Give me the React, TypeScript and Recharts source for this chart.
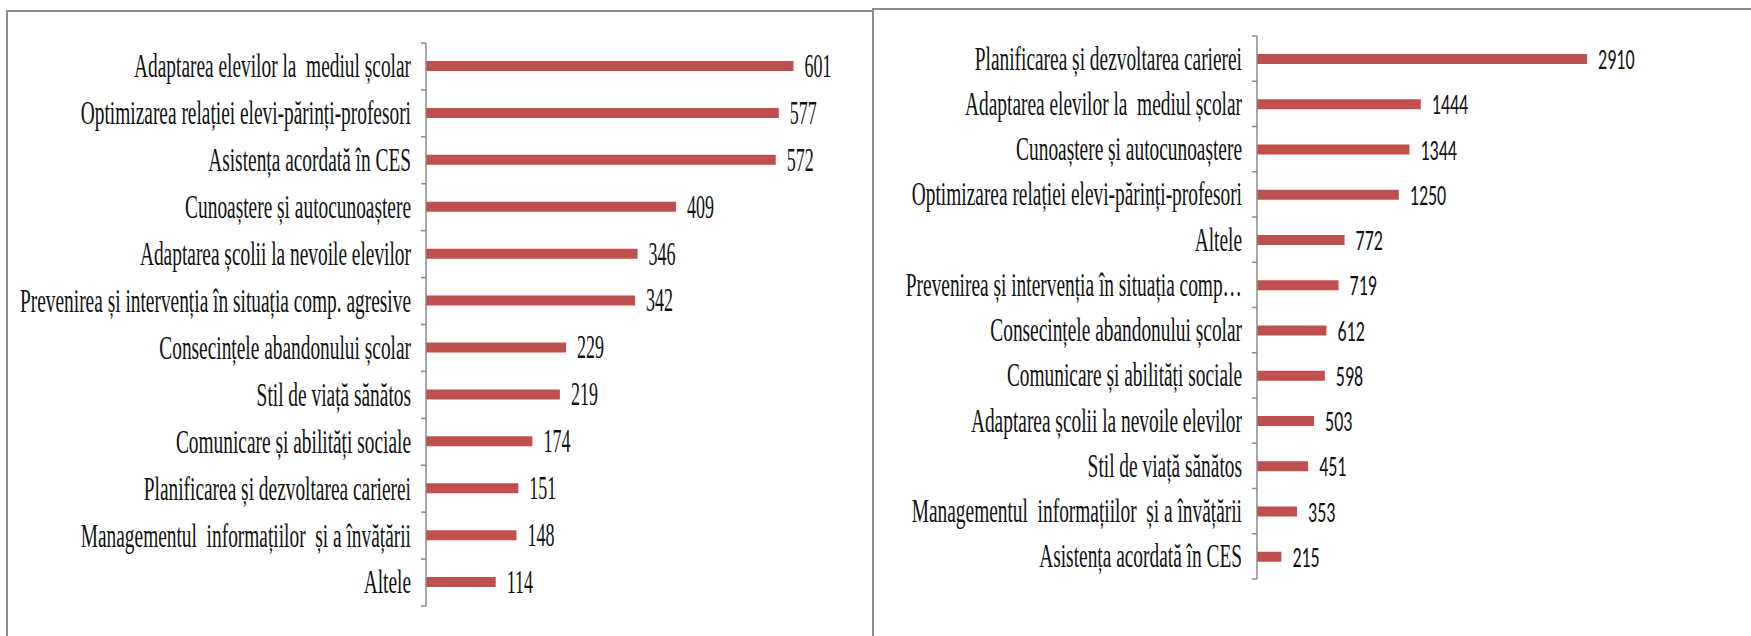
import React from "react";
import { BarChart, Bar, XAxis, YAxis, LabelList } from "recharts";

// left panel
const leftCategories = [
  "Adaptarea elevilor la  mediul școlar",
  "Optimizarea relației elevi-părinți-profesori",
  "Asistența acordată în CES",
  "Cunoaștere și autocunoaștere",
  "Adaptarea școlii la nevoile elevilor",
  "Prevenirea și intervenția în situația comp. agresive",
  "Consecințele abandonului școlar",
  "Stil de viață sănătos",
  "Comunicare și abilități sociale",
  "Planificarea și dezvoltarea carierei",
  "Managementul  informațiilor  și a învățării",
  "Altele",
];
const leftValues = [601, 577, 572, 409, 346, 342, 229, 219, 174, 151, 148, 114];

// right panel
const rightCategories = [
  "Planificarea și dezvoltarea carierei",
  "Adaptarea elevilor la  mediul școlar",
  "Cunoaștere și autocunoaștere",
  "Optimizarea relației elevi-părinți-profesori",
  "Altele",
  "Prevenirea și intervenția în situația comp…",
  "Consecințele abandonului școlar",
  "Comunicare și abilități sociale",
  "Adaptarea școlii la nevoile elevilor",
  "Stil de viață sănătos",
  "Managementul  informațiilor  și a învățării",
  "Asistența acordată în CES",
];
const rightValues = [2910, 1444, 1344, 1250, 772, 719, 612, 598, 503, 451, 353, 215];

const BAR = "#C0504D";
const AXIS = "#8a8a8a";
const BORDER = "#8c8c8c";
const TICK = 5;
const GAP = 10;

const serif = '"Liberation Serif", "DejaVu Serif", serif';
const sans = 'Carlito, Lato, "Open Sans", sans-serif';

function makeTick(cats: string[], size: number, squeeze: number) {
  return (props: any) => {
    const { x, y, payload } = props;
    const half = payload?.offset ?? 0;
    const ax = x + TICK + GAP;
    const last = payload?.value === cats[cats.length - 1];
    return (
      <g>
        <line x1={ax - TICK} x2={ax} y1={y - half} y2={y - half} stroke={AXIS} strokeWidth={1.5} />
        {last && <line x1={ax - TICK} x2={ax} y1={y + half} y2={y + half} stroke={AXIS} strokeWidth={1.5} />}
        <g transform={`translate(${x},${y + size * 0.32}) scale(${squeeze},1)`}>
          <text x={0} y={0} textAnchor="end" fontSize={size} fill="#111" style={{ whiteSpace: "pre", fontFamily: serif }}>
            {payload.value}
          </text>
        </g>
      </g>
    );
  };
}

function makeValueLabel(font: string, size: number, squeeze: number, capRatio: number) {
  return (props: any) => {
    const { x, y, width, height, value } = props;
    const tx = x + width + 11;
    const ty = y + height / 2 + size * capRatio;
    return (
      <g transform={`translate(${tx},${ty}) scale(${squeeze},1)`}>
        <text x={0} y={0} fontSize={size} fill="#111" style={{ fontFamily: font }}>
          {value}
        </text>
      </g>
    );
  };
}

function Panel({
  cats,
  vals,
  width,
  axisWidth,
  top,
  bottom,
  right,
  max,
  valueFont,
  valueSize,
  valueSqueeze,
  valueCap,
}: {
  cats: string[];
  vals: number[];
  width: number;
  axisWidth: number;
  top: number;
  bottom: number;
  right: number;
  max: number;
  valueFont: string;
  valueSize: number;
  valueSqueeze: number;
  valueCap: number;
}) {
  const data = cats.map((name, i) => ({ name, value: vals[i] }));
  return (
    <BarChart
      width={width}
      height={636}
      data={data}
      layout="vertical"
      margin={{ top, bottom, left: 0, right }}
      barCategoryGap={0}
    >
      <XAxis type="number" domain={[0, max]} hide />
      <YAxis
        type="category"
        dataKey="name"
        width={axisWidth}
        interval={0}
        tickLine={false}
        tickSize={TICK}
        tickMargin={GAP}
        axisLine={{ stroke: AXIS, strokeWidth: 1.5 }}
        tick={makeTick(cats, 34, 0.57)}
      />
      <Bar dataKey="value" fill={BAR} barSize={10} isAnimationActive={false}>
        <LabelList dataKey="value" content={makeValueLabel(valueFont, valueSize, valueSqueeze, valueCap)} />
      </Bar>
    </BarChart>
  );
}

export default function App() {
  return (
    <div style={{ position: "absolute", left: 0, top: 0, width: 1751, height: 636, background: "#fff", overflow: "hidden" }}>
      {/* panel frames */}
      <div style={{ position: "absolute", left: 6, top: 10, width: 868, height: 700, borderTop: `2px solid ${BORDER}`, borderLeft: `2px solid ${BORDER}`, boxSizing: "border-box" }} />
      <div style={{ position: "absolute", left: 872, top: 8, width: 900, height: 700, borderTop: `2px solid ${BORDER}`, borderLeft: `2px solid ${BORDER}`, boxSizing: "border-box" }} />
      <div style={{ position: "absolute", left: 0, top: 0 }}>
        <Panel
          cats={leftCategories}
          vals={leftValues}
          width={872}
          axisWidth={426}
          top={43}
          bottom={30}
          right={18}
          max={700}
          valueFont={serif}
          valueSize={34}
          valueSqueeze={0.53}
          valueCap={0.32}
        />
      </div>
      <div style={{ position: "absolute", left: 874, top: 0 }}>
        <Panel
          cats={rightCategories}
          vals={rightValues}
          width={877}
          axisWidth={383}
          top={36}
          bottom={57}
          right={97}
          max={3500}
          valueFont={sans}
          valueSize={29}
          valueSqueeze={0.62}
          valueCap={0.35}
        />
      </div>
    </div>
  );
}
